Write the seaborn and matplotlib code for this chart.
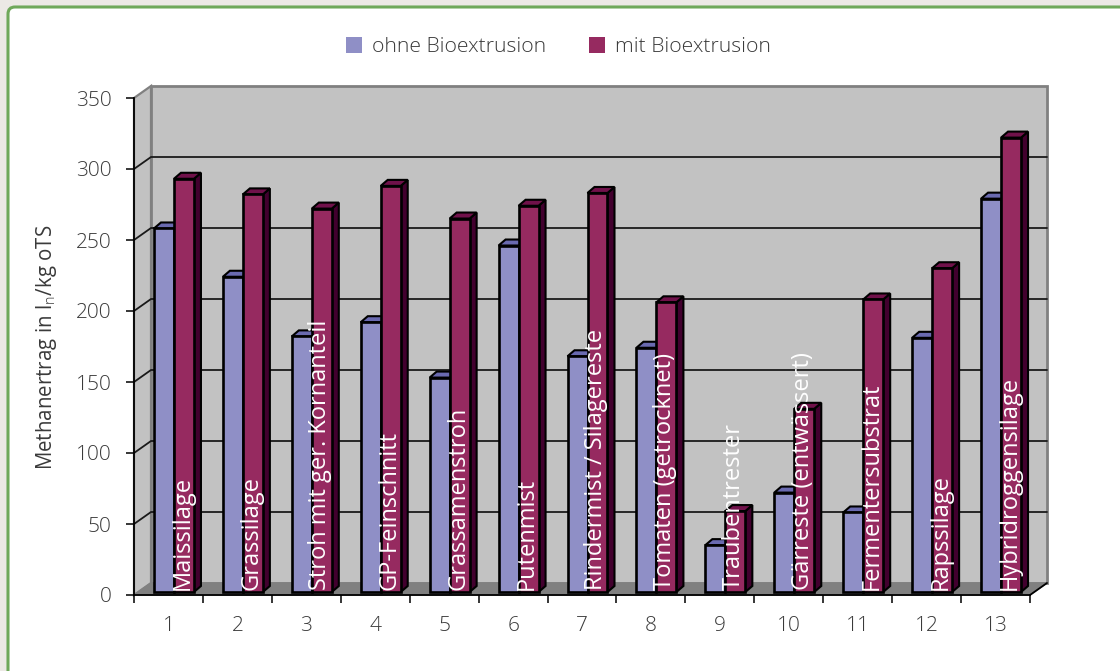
import pandas as pd
import seaborn as sns
import matplotlib.pyplot as plt
from matplotlib.patches import Polygon, FancyBboxPatch
from matplotlib.transforms import Affine2D, IdentityTransform

categories = ["1", "2", "3", "4", "5", "6", "7", "8", "9", "10", "11", "12", "13"]
substrates = ["Maissilage", "Grassilage", "Stroh mit ger. Kornanteil", "GP-Feinschnitt",
              "Grassamenstroh", "Putenmist", "Rindermist / Silagereste", "Tomaten (getrocknet)",
              "Traubentrester", "Gärreste (entwässert)", "Fermentersubstrat", "Rapssilage",
              "Hybridroggensilage"]
ohne = [256, 222, 180, 190, 151, 244, 166, 172, 33, 70, 56, 179, 277]
mit = [291, 280, 270, 286, 263, 272, 281, 204, 57, 129, 206, 228, 320]
y_ticks = [0, 50, 100, 150, 200, 250, 300, 350]

W, H = 1120, 671
TEXT = "#3a3a3a"
FS = 15

sns.set_theme(style="white")
plt.rcParams["font.family"] = ["Open Sans", "DejaVu Sans"]
plt.rcParams["font.weight"] = "light"
plt.rcParams["mathtext.fontset"] = "custom"
plt.rcParams["mathtext.rm"] = "Open Sans"

fig = plt.figure(figsize=(W / 100, H / 100), dpi=100, facecolor="#ECE9E5")
pix = IdentityTransform()

# white card with the green border, runs off the right and bottom edge
card = FancyBboxPatch((8, -40), W + 60, H + 40 - 7, boxstyle="round,pad=0,rounding_size=7",
                      transform=pix, fc="white", ec="#6FA85A", lw=2.2, zorder=-5)
fig.add_artist(card)

ax = fig.add_axes([134 / W, 1 - 595 / H, 896 / W, 497 / H])
ax.patch.set_visible(False)

df = pd.DataFrame({
    "cat": categories * 2,
    "val": ohne + mit,
    "serie": ["ohne Bioextrusion"] * 13 + ["mit Bioextrusion"] * 13,
})
sns.barplot(data=df, x="cat", y="val", hue="serie", ax=ax, width=0.58, gap=0,
            palette=["#8F8FC6", "#962A60"], edgecolor="black", linewidth=1.9,
            saturation=1, zorder=5)
bars = [p for p in ax.patches if p.get_height() > 0]

ax.set_xlim(-0.5, 12.5)
ax.set_ylim(0, 350)


def px(x, y):
    return ax.transData.transform((x, y))


# 3d box: walls and floor behind the front plane
DX, DY = 17, 12
x0, x1 = -0.5, 12.5
fl, fr = px(x0, 0), px(x1, 0)
tl, tr = px(x0, 350), px(x1, 350)
d = (DX, DY)
wall = dict(transform=pix, clip_on=False, zorder=0)
ax.add_patch(Polygon([fl, fl + d, tl + d, tl], fc="#C2C2C2", ec="#808080", lw=1.6, **wall))
ax.add_patch(Polygon([fl + d, fr + d, tr + d, tl + d], fc="#C2C2C2", ec="#808080", lw=2, **wall))
ax.add_patch(Polygon([fl, fr, fr + d, fl + d], fc="#808080", ec="#808080", lw=1, **wall))
for v in y_ticks[1:-1]:
    a, b = px(x0, v), px(x1, v)
    ax.plot([a[0], a[0] + DX, b[0] + DX], [a[1], a[1] + DY, b[1] + DY], color="#1a1a1a", lw=1.3,
            transform=pix, clip_on=False, zorder=1)
ax.plot([fr[0], fr[0] + DX], [fr[1], fr[1] + DY], color="black", lw=1.3, transform=pix,
        clip_on=False, zorder=1)

# bars stand a little behind the front plane, side and top faces are added
SHIFT = Affine2D().translate(5.5, 3)
BX, BY = 7, 6
for i, bar in enumerate(bars):
    blue = i < 13
    a = px(bar.get_x(), 0) + (5.5, 3)
    b = px(bar.get_x() + bar.get_width(), bar.get_height()) + (5.5, 3)
    side = [(b[0], a[1]), (b[0] + BX, a[1] + BY), (b[0] + BX, b[1] + BY), (b[0], b[1])]
    top = [(a[0], b[1]), (a[0] + BX, b[1] + BY), (b[0] + BX, b[1] + BY), (b[0], b[1])]
    z = 3 if blue else 5
    bar.set_transform(ax.transData + SHIFT)
    bar.set_zorder(z + 0.2)
    ax.add_patch(Polygon(side, fc="#5A5AA0" if blue else "#42002E", ec="black", lw=1.5,
                         transform=pix, clip_on=False, zorder=z))
    ax.add_patch(Polygon(top, fc="#6A6AB0" if blue else "#70114A", ec="black", lw=1.5,
                         transform=pix, clip_on=False, zorder=z))

# substrate names sit on the bars in white
for i, name in enumerate(substrates):
    ax.annotate(name, (i, 0), xytext=(14 * 0.72, 5 * 0.72), textcoords="offset points",
                rotation=90, ha="center", va="bottom", color="white", fontsize=17,
                fontweight="normal", zorder=8)

for s in ["top", "right"]:
    ax.spines[s].set_visible(False)
for s in ["left", "bottom"]:
    ax.spines[s].set_color("black")
    ax.spines[s].set_linewidth(1.3)

ax.set_yticks(y_ticks)
ax.tick_params(axis="y", length=5.5, width=1.1, color="black", labelsize=FS, labelcolor=TEXT, pad=10.5, left=True)
ax.set_xticks([i - 0.5 for i in range(14)])
ax.set_xticklabels([])
ax.set_xticks(range(13), categories, minor=True)
ax.tick_params(axis="x", which="major", length=6, width=1.1, color="black", bottom=True)
ax.tick_params(axis="x", which="minor", length=0, labelsize=FS, labelcolor=TEXT, pad=15)
ax.set_xlabel("")
ax.set_ylabel(r"Methanertrag in l$_{\mathrm{n}}$/kg oTS", fontsize=FS - 0.2, color=TEXT)
ax.yaxis.set_label_coords((59 - 134) / 896, (595 - 347) / 497)

handles, labels = ax.get_legend_handles_labels()
ax.get_legend().remove()
fig.legend(handles, labels, ncol=2, loc="center", bbox_to_anchor=(558.5 / W, 1 - 47 / H),
           frameon=False, fontsize=15.2, labelcolor=TEXT, handlelength=0.76, handleheight=0.76,
           handletextpad=0.5, columnspacing=2.0, borderpad=0)
for h in fig.legends[0].legend_handles:
    h.set_linewidth(0)

fig.savefig("out.png", dpi=100, facecolor=fig.get_facecolor())
